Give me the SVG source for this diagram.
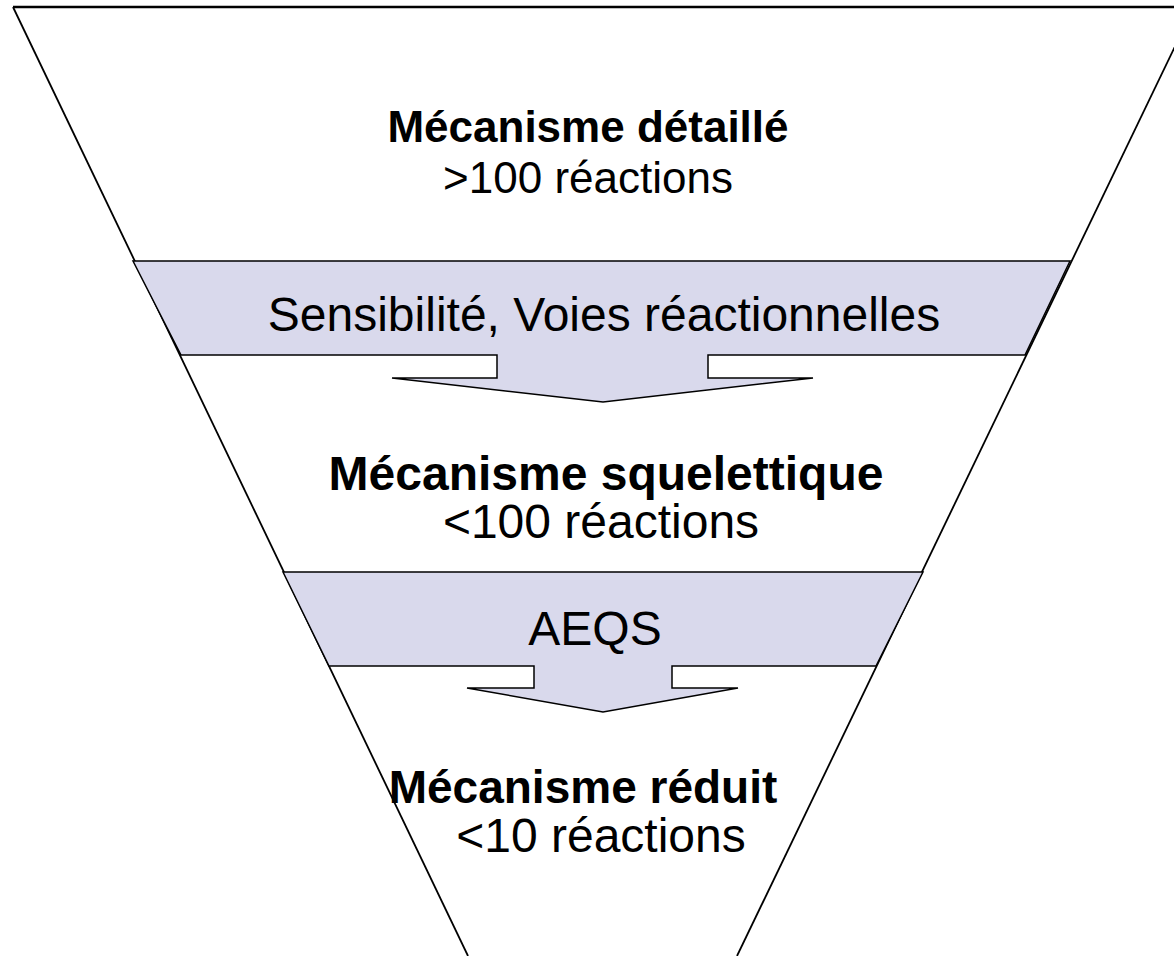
<svg xmlns="http://www.w3.org/2000/svg" width="1174" height="956" viewBox="0 0 1174 956">
<style>
.band{fill:#d9d9ec;stroke:#000;stroke-width:1.5;stroke-linejoin:miter}
.funnel{fill:none;stroke:#000;stroke-width:1.8}
.top{fill:none;stroke:#000;stroke-width:2.6}
.t{font-family:"Liberation Sans",Arial,sans-serif;font-size:48px;fill:#000;text-anchor:middle}
.b{font-weight:bold}
</style>
<rect width="1174" height="956" fill="#fff"/>
<g id="funnel">
<polyline class="funnel" points="468,956 13,7"/>
<polyline class="funnel" points="1194,7 737,956"/>
<line class="top" x1="13" y1="7" x2="1194" y2="7"/>
</g>
<g id="connectors">
<path id="arrow1" class="band" d="M133,261 L1070,261 L1025,355 L708,355 L708,378 L813,378 L603,402 L392,378 L497,378 L497,355 L181,355 Z"/>
<path id="arrow2" class="band" d="M283,572 L923,572 L876,666 L672,666 L672,688 L738,688 L603,712 L467,688 L534,688 L534,666 L329,666 Z"/>
</g>
<g id="node-detaille">
<text class="t b" x="588" y="142" style="font-size:44px">Mécanisme détaillé</text>
<text class="t" x="588" y="193" style="font-size:44px">&gt;100 réactions</text>
</g>
<g id="node-sensibilite">
<text class="t" x="604" y="331">Sensibilité, Voies réactionnelles</text>
</g>
<g id="node-squelettique">
<text class="t b" x="606" y="490">Mécanisme squelettique</text>
<text class="t" x="601" y="538">&lt;100 réactions</text>
</g>
<g id="node-aeqs">
<text class="t" x="595" y="645">AEQS</text>
</g>
<g id="node-reduit">
<text class="t b" x="583" y="803" style="font-size:46px">Mécanisme réduit</text>
<text class="t" x="601" y="852">&lt;10 réactions</text>
</g>
</svg>
